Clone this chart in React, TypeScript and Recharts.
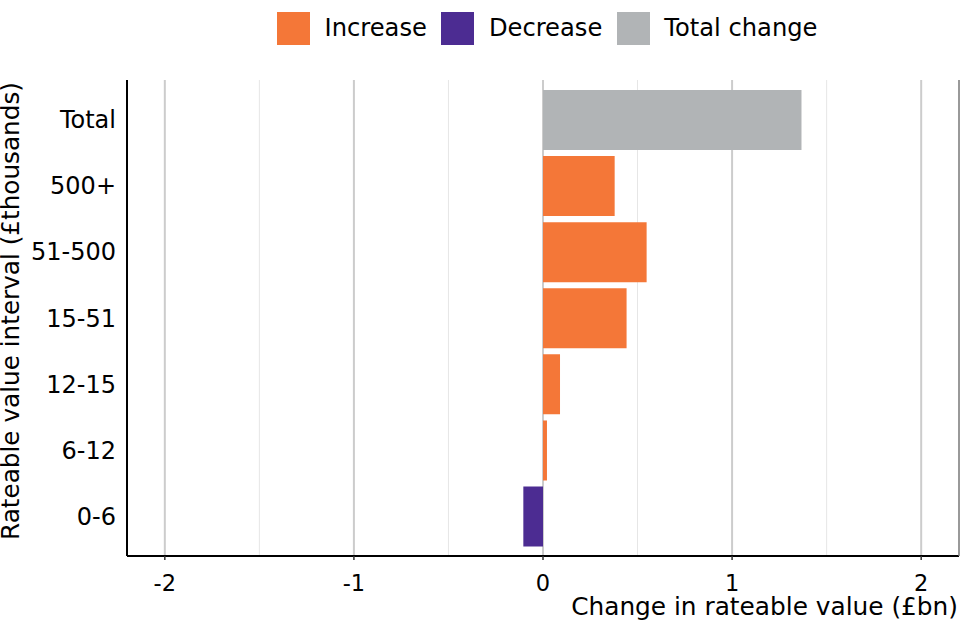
import React from 'react';
import { BarChart, Bar, XAxis, YAxis, CartesianGrid, Cell, Label } from 'recharts';

const categories = ['Total', '500+', '51-500', '15-51', '12-15', '6-12', '0-6'];
const values = [1.367, 0.379, 0.548, 0.442, 0.09, 0.021, -0.104];
const changeTypes = ['Total change', 'Increase', 'Increase', 'Increase', 'Increase', 'Increase', 'Decrease'];
const xTicks = [-2, -1, 0, 1, 2];
const minorTicks = [-1.5, -0.5, 0.5, 1.5];
const xDomain = [-2.2, 2.2];
const legendItems = ['Increase', 'Decrease', 'Total change'];
const typeColors: Record<string, string> = {
  Increase: '#F47738',
  Decrease: '#4C2C92',
  'Total change': '#B1B4B6',
};

const data = categories.map((c, i) => ({ category: c, value: values[i], type: changeTypes[i] }));

const FONT = '"DejaVu Sans", sans-serif';

const gridGen = (vals: number[]) => (props: any) => {
  const s = props?.xAxis?.scale;
  if (s && typeof s === 'function') {
    const out = vals.map((v) => s(v));
    if (out.every((o) => typeof o === 'number' && !isNaN(o))) return out;
  }
  if (s && typeof s.map === 'function') {
    return vals.map((v) => s.map(v));
  }
  const off = props.offset;
  return vals.map((v) => off.left + ((v - xDomain[0]) / (xDomain[1] - xDomain[0])) * off.width);
};

const XTitle = (props: any) => {
  const vb = props.viewBox;
  return (
    <text x={vb.x + vb.width - 1} y={vb.y + 59} textAnchor="end" fontSize={24.8} fontFamily={FONT} fill="#000">
      Change in rateable value (£bn)
    </text>
  );
};

const YTitle = () => {
  const cx = 19;
  const cy = 311;
  return (
    <text x={cx} y={cy} textAnchor="middle" fontSize={24.7} fontFamily={FONT} fill="#000" transform={`rotate(-90, ${cx}, ${cy})`}>
      Rateable value interval (£thousands)
    </text>
  );
};

export default function App() {
  return (
    <div style={{ position: 'absolute', left: 0, top: 0, width: 960, height: 640, background: '#fff', fontFamily: FONT }}>
      <div
        style={{
          position: 'absolute',
          top: 11,
          left: 277,
          display: 'flex',
          alignItems: 'center',
          height: 34,
          fontSize: 24.2,
          color: '#000',
          whiteSpace: 'nowrap',
        }}
      >
        {legendItems.map((item) => (
          <div key={item} style={{ display: 'flex', alignItems: 'center', marginRight: 14.5 }}>
            <div style={{ width: 33, height: 33, background: typeColors[item], marginRight: 14.5 }} />
            <span>{item}</span>
          </div>
        ))}
      </div>
      <BarChart
        width={960}
        height={640}
        data={data}
        layout="vertical"
        margin={{ top: 80, right: 0, bottom: 0, left: 0 }}
        barCategoryGap="5%"
      >
        <CartesianGrid
          horizontal={false}
          stroke="#e6e6e6"
          strokeWidth={1}
          verticalCoordinatesGenerator={gridGen(minorTicks)}
        />
        <CartesianGrid
          horizontal={false}
          stroke="#cccccc"
          strokeWidth={2}
          verticalCoordinatesGenerator={gridGen(xTicks)}
        />
        <XAxis
          type="number"
          domain={xDomain}
          ticks={xTicks}
          allowDataOverflow
          height={84}
          tickSize={4}
          tickMargin={15}
          tickLine={{ stroke: '#333', strokeWidth: 1.5 }}
          axisLine={{ stroke: '#000', strokeWidth: 2 }}
          tick={{ fontSize: 22.5, fill: '#000', fontFamily: FONT }}
        >
          <Label content={<XTitle />} />
        </XAxis>
        <XAxis
          xAxisId="top"
          orientation="top"
          type="number"
          domain={xDomain}
          height={0}
          tick={false}
          tickLine={false}
          axisLine={{ stroke: '#888', strokeWidth: 1.5 }}
        />
        <YAxis
          type="category"
          dataKey="category"
          width={127}
          tickLine={false}
          tickSize={0}
          tickMargin={11}
          padding={{ top: 6.6, bottom: 6.6 }}
          axisLine={{ stroke: '#000', strokeWidth: 2 }}
          tick={{ fontSize: 24, fill: '#000', fontFamily: FONT }}
        >
          <Label content={<YTitle />} />
        </YAxis>
        <YAxis
          yAxisId="right"
          orientation="right"
          type="category"
          dataKey="category"
          width={1}
          tick={false}
          tickLine={false}
          axisLine={{ stroke: '#777', strokeWidth: 1.5 }}
        />
        <Bar dataKey="value" isAnimationActive={false}>
          {data.map((d) => (
            <Cell key={d.category} fill={typeColors[d.type]} />
          ))}
        </Bar>
      </BarChart>
    </div>
  );
}
